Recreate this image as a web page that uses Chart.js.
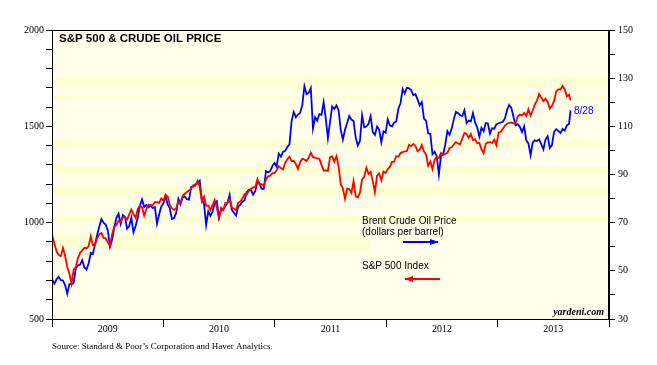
<!DOCTYPE html>
<html>
<head>
<meta charset="utf-8">
<script src="https://cdn.jsdelivr.net/npm/chart.js@4.4.1/dist/chart.umd.min.js"></script>
<style>
  html, body { margin: 0; padding: 0; background: #ffffff; }
  canvas { display: block; }
</style>
</head>
<body>
<canvas id="js--chart" width="657" height="365"></canvas>
<script>
// weekly readings, first one on Fri 2 Jan 2009, last one on Wed 28 Aug 2013
const firstWeek = [2009, 0, 2];
const lastDay = [2013, 7, 28];

// S&P 500 index (left axis)
const sp500 = [
    931.8, 890.4, 850.1, 832.0, 825.9, 868.6, 826.8, 770.1, 735.1, 683.4, 756.6, 768.5, 815.9,
    842.5, 856.6, 869.6, 866.2, 877.5, 929.2, 882.9, 887.0, 919.1, 940.1, 946.2, 921.2, 918.9,
    896.4, 879.1, 940.4, 979.3, 987.5, 1010.5, 1004.1, 1026.1, 1028.9, 1016.4, 1042.7, 1068.3, 1044.4,
    1025.2, 1071.5, 1087.7, 1079.6, 1036.2, 1069.3, 1093.5, 1091.4, 1091.5, 1106.0, 1106.4, 1102.5, 1126.5, 1115.1,
    // 2010
    1145.0, 1136.0, 1091.8, 1073.9, 1066.2, 1075.5, 1109.2, 1104.5, 1138.7, 1150.0, 1159.9, 1166.6,
    1178.1, 1194.4, 1192.1, 1217.3, 1186.7, 1110.9, 1135.7, 1087.7, 1089.4, 1064.9, 1091.6, 1117.5, 1076.8,
    1022.6, 1078.0, 1064.9, 1102.7, 1101.6, 1121.6, 1079.3, 1071.7, 1064.6, 1104.5, 1109.6, 1125.6, 1148.7,
    1146.2, 1165.2, 1176.2, 1183.1, 1183.3, 1225.9, 1199.2, 1199.7, 1189.4, 1224.7, 1240.4, 1243.9, 1256.8, 1257.6,
    // 2011
    1271.5, 1293.2, 1283.4, 1276.3, 1310.9, 1329.2, 1343.0, 1319.9, 1321.2, 1304.3, 1279.2, 1313.8,
    1332.4, 1328.2, 1319.7, 1337.4, 1363.6, 1340.2, 1337.8, 1333.3, 1331.1, 1300.2, 1271.0, 1271.5, 1268.5,
    1339.7, 1343.8, 1316.1, 1345.0, 1292.3, 1199.4, 1178.8, 1123.5, 1176.8, 1174.0, 1154.2, 1216.0, 1136.4, 1131.4,
    1155.5, 1224.6, 1238.3, 1285.1, 1253.2, 1263.9, 1215.7, 1158.7, 1244.3, 1255.2, 1219.7, 1265.3, 1257.6,
    // 2012
    1277.8, 1289.1, 1315.4, 1316.3, 1344.9, 1342.6, 1361.2, 1365.7, 1369.6, 1370.9, 1404.2, 1397.1, 1408.5,
    1398.1, 1370.3, 1378.5, 1403.4, 1369.1, 1353.4, 1295.2, 1317.8, 1278.0, 1325.7, 1342.8, 1335.0, 1362.2,
    1354.7, 1356.8, 1362.7, 1386.0, 1391.0, 1405.9, 1418.2, 1411.1, 1406.6, 1437.9, 1465.8, 1460.2, 1440.7,
    1460.9, 1428.6, 1433.2, 1411.9, 1414.2, 1379.9, 1359.9, 1409.2, 1416.2, 1418.1, 1413.6, 1430.2, 1402.4,
    // 2013
    1466.5, 1472.1, 1486.0, 1503.0, 1513.2, 1517.9, 1519.8, 1515.6, 1518.2, 1551.2, 1560.7, 1556.9, 1569.2,
    1553.3, 1588.9, 1555.3, 1582.2, 1614.4, 1633.7, 1667.5, 1649.6, 1630.7, 1643.4, 1626.7, 1592.4, 1606.3,
    1631.9, 1680.2, 1692.1, 1691.7, 1709.7, 1691.4, 1655.8, 1663.5, 1635.0
];

// Brent crude, dollars per barrel (right axis)
const brent = [
    46.3, 44.7, 46.5, 47.5, 46.1, 46.0, 44.0, 40.5, 44.5, 44.5, 45.0, 51.0, 52.3,
    52.5, 54.5, 51.5, 50.5, 53.0, 57.5, 57.0, 61.0, 65.0, 68.4, 71.5, 70.0, 69.2,
    66.7, 60.0, 63.0, 68.0, 72.0, 73.7, 69.5, 73.2, 72.5, 67.5, 68.6, 72.0, 66.0,
    68.6, 72.0, 77.0, 79.7, 76.5, 77.3, 76.4, 77.2, 76.1, 76.4, 69.6, 73.4, 76.7, 77.9,
    // 2010
    81.0, 77.6, 75.9, 71.5, 71.9, 74.1, 79.9, 77.6, 80.5, 80.8, 79.8, 79.6,
    84.9, 85.0, 85.9, 86.3, 87.4, 79.5, 77.9, 69.0, 74.7, 72.8, 74.6, 78.2, 78.9,
    72.1, 75.2, 75.6, 76.8, 78.3, 81.5, 75.4, 74.1, 73.0, 76.6, 77.5, 78.7, 79.3,
    82.7, 83.7, 83.5, 81.6, 83.2, 86.9, 86.3, 84.0, 84.0, 91.4, 90.9, 91.5, 93.5, 94.8,
    // 2011
    93.3, 98.7, 97.4, 99.4, 99.8, 101.4, 102.5, 112.1, 116.0, 113.8, 114.9, 115.6,
    118.7, 126.7, 123.4, 123.9, 125.9, 109.1, 113.8, 112.4, 115.1, 114.8, 120.0, 113.2, 105.1,
    111.9, 118.3, 117.2, 118.7, 116.7, 108.5, 104.5, 108.6, 111.4, 114.3, 112.8, 112.2, 105.4, 102.0,
    104.0, 114.6, 109.6, 109.9, 111.0, 114.2, 107.6, 106.4, 109.9, 108.6, 103.4, 107.9, 107.4,
    // 2012
    112.9, 110.4, 110.0, 111.5, 112.0, 117.3, 119.6, 125.5, 123.7, 126.0, 125.8, 125.1, 122.9,
    123.4, 121.2, 118.7, 120.1, 113.2, 112.3, 107.1, 106.8, 98.4, 99.5, 97.6, 90.0, 97.8,
    98.2, 102.4, 108.0, 106.5, 109.0, 112.9, 116.0, 115.4, 114.6, 114.3, 116.7, 111.4, 112.4,
    112.0, 115.5, 111.6, 109.6, 105.7, 109.4, 108.0, 111.4, 111.2, 107.0, 109.2, 109.0, 110.8,
    // 2013
    111.3, 111.6, 111.9, 113.3, 116.8, 118.9, 117.7, 114.0, 110.4, 110.9, 109.8, 107.6, 110.0,
    104.1, 102.9, 98.0, 103.2, 104.2, 103.9, 104.6, 102.6, 100.4, 104.6, 105.9, 101.0, 102.2,
    107.7, 108.8, 108.1, 107.2, 108.9, 108.2, 110.4, 111.0, 116.6
];

const years = ['2009', '2010', '2011', '2012', '2013'];

// turn a date into a fractional year for the linear x scale
function yearFrac(d) {
    const y = d.getFullYear();
    const start = new Date(y, 0, 1);
    const end = new Date(y + 1, 0, 1);
    return y + (d - start) / (end - start);
}

const xs = [];
for (let i = 0; i < sp500.length - 1; i++) {
    xs.push(yearFrac(new Date(firstWeek[0], firstWeek[1], firstWeek[2] + 7 * i)));
}
xs.push(yearFrac(new Date(lastDay[0], lastDay[1], lastDay[2])));

const spPoints = sp500.map((v, i) => ({ x: xs[i], y: v }));
const brentPoints = brent.map((v, i) => ({ x: xs[i], y: v }));

const serif = "'Liberation Serif', 'Times New Roman', serif";
const sans = "'Liberation Sans', Arial, sans-serif";

function arrow(ctx, x1, x2, y, color, pointRight) {
    ctx.save();
    ctx.strokeStyle = color;
    ctx.fillStyle = color;
    ctx.lineWidth = 2;
    ctx.beginPath();
    ctx.moveTo(x1, y);
    ctx.lineTo(x2, y);
    ctx.stroke();
    const tip = pointRight ? x2 + 1 : x1 - 1;
    const back = pointRight ? tip - 9 : tip + 9;
    ctx.beginPath();
    ctx.moveTo(tip, y);
    ctx.lineTo(back, y - 3);
    ctx.lineTo(back, y + 3);
    ctx.closePath();
    ctx.fill();
    ctx.restore();
}

// pale yellow plot with a few faint darker bands like the printed original
const bands = [[78, 88], [95, 100], [140, 148], [166, 174], [186, 195], [215, 222]];

const decor = {
    id: 'decor',
    beforeDraw(chart) {
        const { ctx, chartArea: a } = chart;
        ctx.save();
        ctx.fillStyle = '#ffffea';
        ctx.fillRect(a.left, a.top, a.right - a.left, a.bottom - a.top);
        ctx.fillStyle = '#ffffd6';
        bands.forEach(b => ctx.fillRect(a.left, b[0], a.right - a.left, b[1] - b[0]));
        ctx.fillRect(a.left, 233, 370 - a.left, 17);
        ctx.restore();
    },
    afterDraw(chart) {
        const { ctx, chartArea: a } = chart;
        ctx.save();
        // frame
        ctx.strokeStyle = '#000';
        ctx.lineWidth = 1;
        ctx.strokeRect(a.left + 0.5, a.top + 0.5, a.right - a.left - 1, a.bottom - a.top);

        // title
        ctx.fillStyle = '#000';
        ctx.textBaseline = 'middle';
        ctx.textAlign = 'left';
        ctx.font = 'bold 11.5px ' + sans;
        ctx.fillText('S&P 500 & CRUDE OIL PRICE', 59, 39);

        // notes
        ctx.font = '10px ' + sans;
        ctx.fillText('Brent Crude Oil Price', 362, 221);
        ctx.fillText('(dollars per barrel)', 362, 232);
        ctx.fillText('S&P 500 Index', 362, 266);
        arrow(ctx, 403, 438, 242, '#0000ff', true);
        arrow(ctx, 405, 440, 279, '#ff0000', false);

        ctx.fillStyle = '#0000ff';
        ctx.fillText('8/28', 574, 111);

        ctx.fillStyle = '#000';
        ctx.textAlign = 'right';
        ctx.font = 'bold italic 10px ' + serif;
        ctx.fillText('yardeni.com', 604, 312);

        ctx.textAlign = 'left';
        ctx.font = '9px ' + serif;
        ctx.fillText('Source: Standard & Poor\u2019s Corporation and Haver Analytics.', 52, 347);
        ctx.restore();
    }
};

const config = {
    type: 'line',
    data: {
        datasets: [
            {
                label: 'S&P 500 Index',
                data: spPoints,
                yAxisID: 'y',
                borderColor: '#ff0000',
                borderWidth: 1.8,
                pointRadius: 0,
                tension: 0
            },
            {
                label: 'Brent Crude Oil Price',
                data: brentPoints,
                yAxisID: 'y1',
                borderColor: '#0000ff',
                borderWidth: 1.8,
                pointRadius: 0,
                tension: 0
            }
        ]
    },
    options: {
        responsive: false,
        animation: false,
        layout: { padding: { top: 30, left: 0, right: 0, bottom: 0 } },
        plugins: { legend: { display: false }, tooltip: { enabled: false } },
        scales: {
            x: {
                type: 'linear',
                min: 2009,
                max: 2014,
                afterBuildTicks(scale) {
                    const t = [];
                    for (let i = 0; i <= years.length * 2; i++) t.push({ value: 2009 + i / 2 });
                    scale.ticks = t;
                },
                afterFit(scale) { scale.height = 46; },
                border: { display: true, color: '#000', width: 1 },
                grid: {
                    drawOnChartArea: false,
                    tickLength: 8,
                    tickColor: (c) => (c.tick && Number.isInteger(c.tick.value)) ? '#000' : 'rgba(0,0,0,0)'
                },
                ticks: {
                    autoSkip: false,
                    maxRotation: 0,
                    padding: -4,
                    color: '#000',
                    font: { family: serif, size: 10 },
                    callback: (v) => Number.isInteger(v) ? '' : years[Math.floor(v) - 2009]
                }
            },
            y: {
                type: 'linear',
                position: 'left',
                min: 500,
                max: 2000,
                afterFit(scale) { scale.width = 52; },
                border: { display: true, color: '#000', width: 1 },
                grid: { drawOnChartArea: false, tickLength: 6, tickColor: '#000' },
                ticks: {
                    stepSize: 100,
                    autoSkip: false,
                    padding: 2,
                    color: '#000',
                    font: { family: serif, size: 10 },
                    callback: (v) => v % 500 === 0 ? v : ''
                }
            },
            y1: {
                type: 'linear',
                position: 'right',
                min: 30,
                max: 150,
                afterFit(scale) { scale.width = 48; },
                border: { display: true, color: '#000', width: 1 },
                grid: { drawOnChartArea: false, tickLength: 6, tickColor: '#000' },
                ticks: {
                    stepSize: 10,
                    autoSkip: false,
                    padding: 3,
                    color: '#000',
                    font: { family: serif, size: 10 },
                    callback: (v) => (v - 30) % 20 === 0 ? v : ''
                }
            }
        }
    },
    plugins: [decor]
};

const myChart = new Chart(document.getElementById('js--chart'), config);
</script>
</body>
</html>
